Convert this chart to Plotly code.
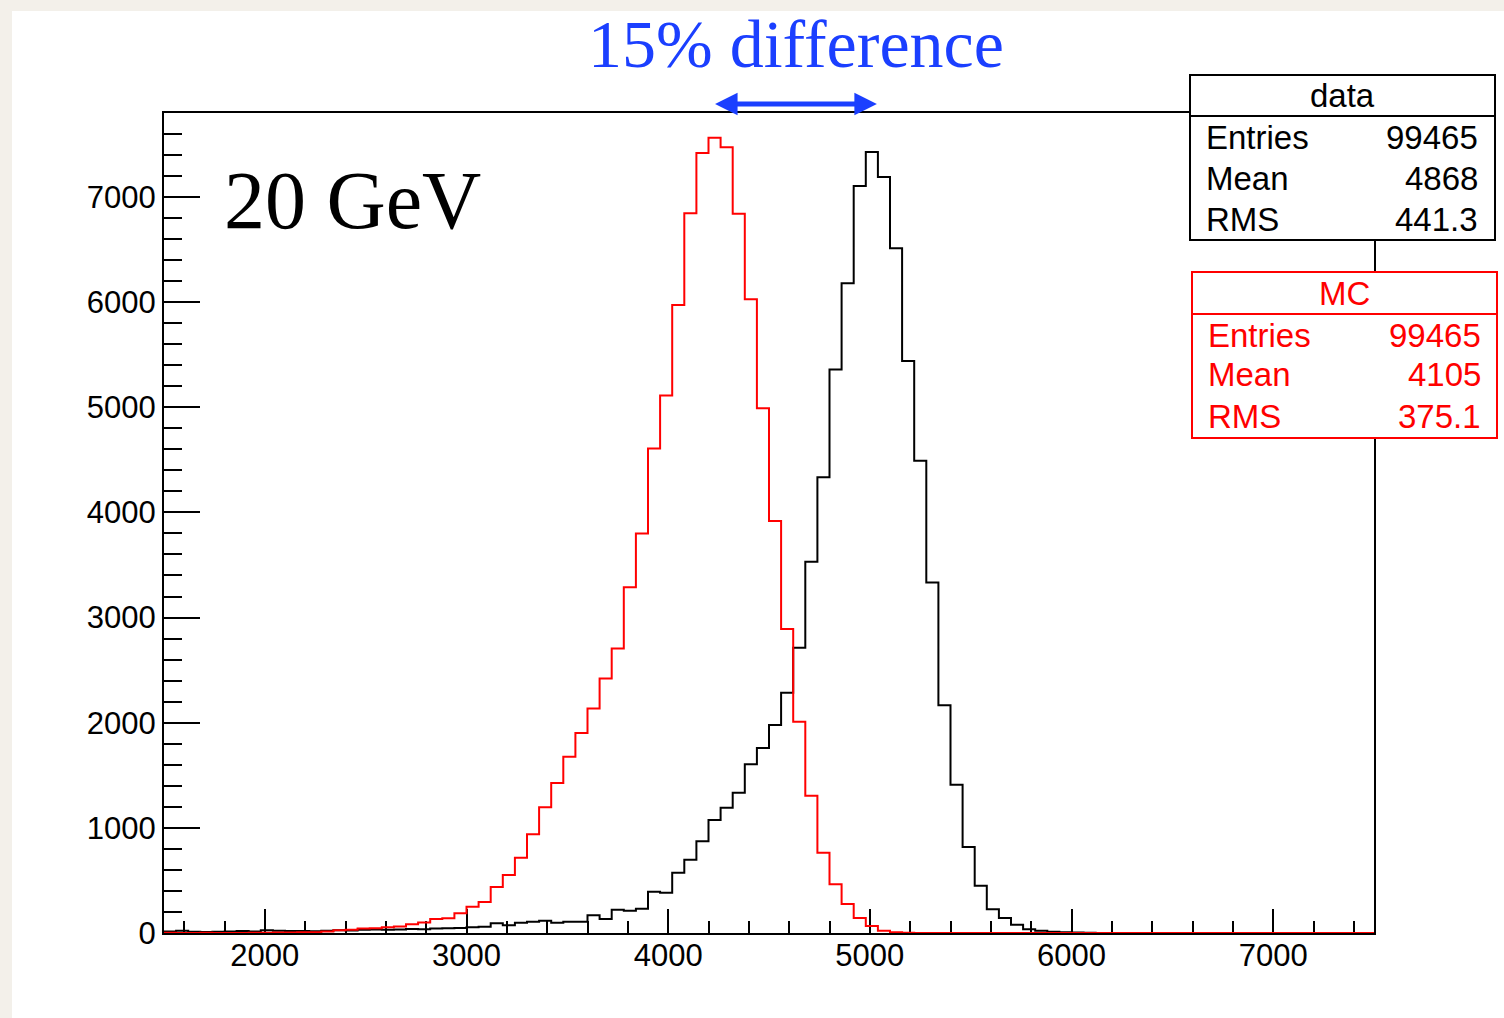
import numpy as np
import plotly.graph_objects as go

# Histogram binning: 100 bins of width 60 between 1500 and 7500
X_MIN, X_MAX, N_BINS = 1500, 7500, 100

# Bin contents (data, black)
data_counts = [
    15, 22, 12, 10, 12, 14, 20, 15, 25, 22,
    18, 20, 16, 22, 25, 24, 30, 34, 30, 33,
    38, 36, 42, 45, 47, 54, 60, 92, 73, 98,
    108, 117, 98, 108, 108, 168, 133, 222, 212, 231,
    393, 383, 573, 697, 872, 1074, 1191, 1334, 1606, 1759,
    1977, 2284, 2712, 3530, 4335, 5358, 6179, 7104, 7427, 7189,
    6511, 5440, 4490, 3334, 2167, 1410, 817, 450, 225, 143,
    79, 35, 22, 12, 6, 4, 2, 0, 0, 0,
    0, 0, 0, 0, 0, 0, 0, 0, 0, 0,
    0, 0, 0, 0, 0, 0, 0, 0, 0, 0,
]

# Bin contents (MC, red)
mc_counts = [
    3, 0, 0, 2, 0, 0, 0, 2, 3, 4,
    5, 6, 8, 15, 25, 32, 42, 46, 55, 62,
    84, 100, 133, 140, 187, 250, 295, 437, 551, 716,
    938, 1195, 1426, 1676, 1901, 2136, 2421, 2706, 3289, 3799,
    4607, 5111, 5972, 6844, 7417, 7564, 7472, 6841, 6027, 4990,
    3919, 2890, 2009, 1305, 763, 463, 276, 143, 67, 22,
    7, 3, 0, 0, 0, 0, 0, 0, 0, 0,
    0, 0, 0, 0, 0, 0, 0, 0, 0, 0,
    0, 0, 0, 0, 0, 0, 0, 0, 0, 0,
    0, 0, 0, 0, 0, 0, 0, 0, 0, 0,
]

stat_names = ["Entries", "Mean", "RMS"]
data_stat_values = ["99465", "4868", "441.3"]
mc_stat_values = ["99465", "4105", "375.1"]

energy_label = "20 GeV"
shift_label = "15% difference"
shift_arrow_x = [4225, 5035]

W, H = 1504, 1018
M_L, M_R, M_T, M_B = 164, 130, 113, 85
PW, PH = W - M_L - M_R, H - M_T - M_B

RED = "#ff0000"
BLUE = "#1b3fff"
SANS = "Liberation Sans"
SERIF = "Liberation Serif"


def px(xp):
    return (xp - M_L) / PW


def py(yp):
    return (H - M_B - yp) / PH


edges = np.linspace(X_MIN, X_MAX, N_BINS + 1)


def step_trace(counts, color):
    y = list(counts) + [counts[-1]]
    return go.Scatter(x=edges, y=y, mode="lines", line_shape="hv",
                      line=dict(color=color, width=2), hoverinfo="skip",
                      showlegend=False)


fig = go.Figure()
fig.add_trace(step_trace(data_counts, "black"))
fig.add_trace(step_trace(mc_counts, RED))

y_max = 1.05 * max(data_counts)

axis_font = dict(family=SANS, size=31, color="black")
fig.update_xaxes(
    range=[X_MIN, X_MAX], showline=True, linewidth=2, linecolor="black",
    mirror=True, showgrid=False, zeroline=False, layer="below traces",
    ticks="inside", ticklen=24, tickwidth=2, tickcolor="black",
    tick0=0, dtick=1000, tickfont=axis_font, ticklabelstandoff=-6,
    minor=dict(ticks="inside", ticklen=12, tickwidth=2, tickcolor="black",
               dtick=200, tick0=0, showgrid=False),
)
fig.update_yaxes(
    range=[0, y_max], showline=True, linewidth=2, linecolor="black",
    mirror=True, showgrid=False, zeroline=False, layer="below traces",
    ticks="inside", ticklen=36, tickwidth=2, tickcolor="black",
    tick0=0, dtick=1000, tickfont=axis_font,
    minor=dict(ticks="inside", ticklen=18, tickwidth=2, tickcolor="black",
               dtick=200, tick0=0, showgrid=False),
)

shapes = [
    # white canvas over the beige page border
    dict(type="rect", xref="paper", yref="paper", layer="below",
         x0=px(12), x1=px(W + 20), y0=py(H + 20), y1=py(11),
         fillcolor="white", line=dict(width=0)),
]

annotations = []


def stats_box(x0, x1, y0, y1, sep, title, values, color, lx, rx, rows, title_y):
    shapes.append(dict(type="rect", xref="paper", yref="paper", layer="above",
                       x0=px(x0), x1=px(x1), y0=py(y1), y1=py(y0),
                       fillcolor="white", line=dict(color=color, width=2)))
    shapes.append(dict(type="line", xref="paper", yref="paper", layer="above",
                       x0=px(x0), x1=px(x1), y0=py(sep), y1=py(sep),
                       line=dict(color=color, width=2)))
    f = dict(family=SANS, size=33, color=color)
    annotations.append(dict(text=title, xref="paper", yref="paper",
                            x=px((x0 + x1) / 2), y=py(title_y),
                            xanchor="center", yanchor="middle",
                            showarrow=False, font=f))
    for name, val, yy in zip(stat_names, values, rows):
        annotations.append(dict(text=name, xref="paper", yref="paper",
                                x=px(lx), y=py(yy), xanchor="left",
                                yanchor="middle", showarrow=False, font=f))
        annotations.append(dict(text=val, xref="paper", yref="paper",
                                x=px(rx), y=py(yy), xanchor="right",
                                yanchor="middle", showarrow=False, font=f))


stats_box(1190, 1495, 75, 240, 116, "data", data_stat_values, "black",
          1204, 1480, [137, 179, 219], 96)
stats_box(1192, 1497, 272, 438, 314, "MC", mc_stat_values, RED,
          1206, 1483, [335, 375, 416], 293)

annotations.append(dict(text=energy_label, xref="paper", yref="paper",
                        x=px(222), y=py(200), xanchor="left", yanchor="middle",
                        showarrow=False,
                        font=dict(family=SERIF, size=82, color="black")))
annotations.append(dict(text=shift_label, xref="paper", yref="paper",
                        x=px(796), y=py(44), xanchor="center", yanchor="middle",
                        showarrow=False,
                        font=dict(family=SERIF, size=68, color=BLUE)))
# double-headed arrow spanning the peak shift
annotations.append(dict(text="", xref="x", yref="paper",
                        x=shift_arrow_x[1], y=py(104),
                        axref="x", ayref="pixel",
                        ax=shift_arrow_x[0], ay=0,
                        showarrow=True, arrowside="end+start",
                        arrowhead=2, startarrowhead=2,
                        arrowsize=0.9, startarrowsize=0.9,
                        arrowwidth=5, arrowcolor=BLUE,
                        standoff=0, startstandoff=0))

fig.update_layout(
    width=W, height=H,
    margin=dict(l=M_L, r=M_R, t=M_T, b=M_B, pad=0),
    paper_bgcolor="#f3f0ea", plot_bgcolor="white",
    shapes=shapes, annotations=annotations,
    showlegend=False,
)

fig.write_html("out.html")
